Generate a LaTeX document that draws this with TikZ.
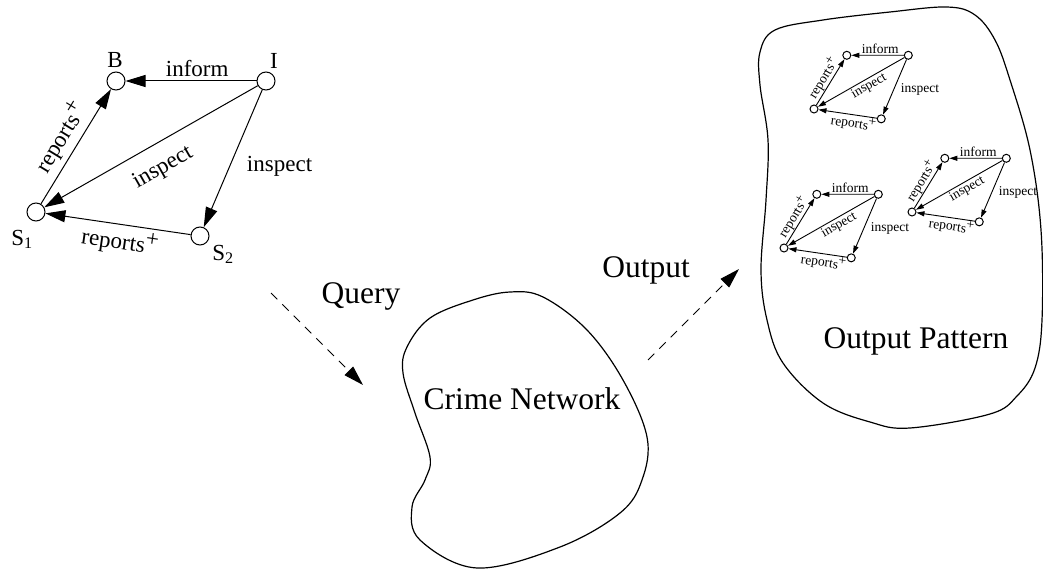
\documentclass[tikz,border=0pt]{standalone}
\usepackage{fontspec}
\setmainfont{Liberation Serif}
\usetikzlibrary{arrows.meta}
\newcommand{\rplus}{reports\raisebox{0.32em}{+}}
\tikzset{
  vtx/.style={circle, draw, line width=1pt, fill=white, inner sep=0pt, minimum size=#1},
  biglab/.style={font=\fontsize{31.5}{36}\selectfont, inner sep=0pt},
  nodelab/.style={font=\fontsize{23}{26}\selectfont, inner sep=0pt, anchor=base},
  blob/.style={line width=1.2pt},
  dasharrow/.style={line width=1pt, dash pattern=on 9pt off 7pt, -{Triangle[length=20pt,width=12pt]}},
  % main graph styles
  M-vtx/.style={vtx=18pt},
  M-edg/.style={line width=1pt, -{Triangle[length=20pt,width=12pt]}},
  M-lab/.style={font=\fontsize{23}{26}\selectfont},
  M-inform/.style={M-lab, pos=0.453, above, inner sep=3.6pt},
  M-rep1/.style={M-lab, sloped, above, inner sep=4.5pt},
  M-diag/.style={M-lab, sloped, below, inner sep=14pt},
  M-right/.style={M-lab, pos=0.56, right, inner sep=17pt},
  M-rep2/.style={M-lab, pos=0.47, sloped, below, inner sep=4pt},
  % small graph styles
  S-vtx/.style={vtx=8pt},
  S-edg/.style={line width=0.9pt, -{Triangle[length=8pt,width=5pt]}},
  S-lab/.style={font=\fontsize{13.5}{15}\selectfont},
  S-inform/.style={S-lab, pos=0.45, above, inner sep=1.6pt},
  S-rep1/.style={S-lab, sloped, above, inner sep=0.5pt},
  S-diag/.style={S-lab, pos=0.45, sloped, below, inner sep=1pt},
  S-right/.style={S-lab, pos=0.54, right, inner sep=6.5pt},
  S-rep2/.style={S-lab, pos=0.38, sloped, below, inner sep=0.5pt},
}
% #1 prefix, #2 style family, #3 x of S1, #4 y of S1, #5 scale
\newcommand{\critgraph}[5]{%
  \begin{scope}[shift={(#3,#4)}, scale=#5]
    \node[#2-vtx] (#1S1) at (0,0) {};
    \node[#2-vtx] (#1B) at (80,-131) {};
    \node[#2-vtx] (#1I) at (230,-131) {};
    \node[#2-vtx] (#1S2) at (164,24) {};
    \draw[#2-edg] (#1I) -- node[#2-inform] {inform} (#1B);
    \draw[#2-edg] (#1S1) -- node[#2-rep1] {\rplus} (#1B);
    \draw[#2-edg] (#1I) -- node[#2-diag] {inspect} (#1S1);
    \draw[#2-edg] (#1I) -- node[#2-right] {inspect} (#1S2);
    \draw[#2-edg] (#1S2) -- node[#2-rep2] {\rplus} (#1S1);
  \end{scope}%
}
\begin{document}
\begin{tikzpicture}[x=1pt, y=-1pt]
  \useasboundingbox (0,0) rectangle (1043,569);

  % main query graph
  \critgraph{m}{M}{36}{212}{1}
  \node[nodelab] (labB) at (115,68) {B};
  \node[nodelab] (labI) at (274,69) {I};
  \node[nodelab] (labS1) at (22,245) {S\textsubscript{1}};
  \node[nodelab] (labS2) at (223,260) {S\textsubscript{2}};

  % query arrow
  \coordinate (q0) at (271,293);
  \coordinate (q1) at (363,385);
  \draw[dasharrow] (q0) -- (q1);
  \node[biglab, anchor=base] (query) at (361,303) {Query};

  % crime network blob
  \draw[blob] plot[smooth cycle, tension=0.6] coordinates {
    (510,292) (543,297) (587,330) (623,380) (647,437) (642,480) (620,513)
    (560,547) (477,568) (420,540) (412,507) (425,480) (430,457) (415,413)
    (403,373) (407,347) (430,318) (473,300)};
  \node[biglab, anchor=base] (crime) at (522,409) {Crime Network};

  % output arrow
  \coordinate (o0) at (648,360);
  \coordinate (o1) at (739,269);
  \draw[dasharrow] (o0) -- (o1);
  \node[biglab, anchor=base] (output) at (646,277) {Output};

  % output pattern blob
  \draw[blob] plot[smooth cycle, tension=0.6] coordinates {
    (760,52) (775,30) (823,20) (890,12) (947,7) (975,15) (995,40) (1010,80)
    (1030,150) (1041,230) (1042,320) (1035,368) (1017,396) (990,414) (910,428)
    (870,422) (823,403) (783,363) (767,320) (761,270) (766,200) (768,140) (760,85)};
  \node[biglab, anchor=base] (outpat) at (916,348) {Output Pattern};

  % small result patterns
  \critgraph{p}{S}{814}{109}{0.41}
  \critgraph{q}{S}{912}{212}{0.41}
  \critgraph{r}{S}{784}{248}{0.41}
\end{tikzpicture}
\end{document}
